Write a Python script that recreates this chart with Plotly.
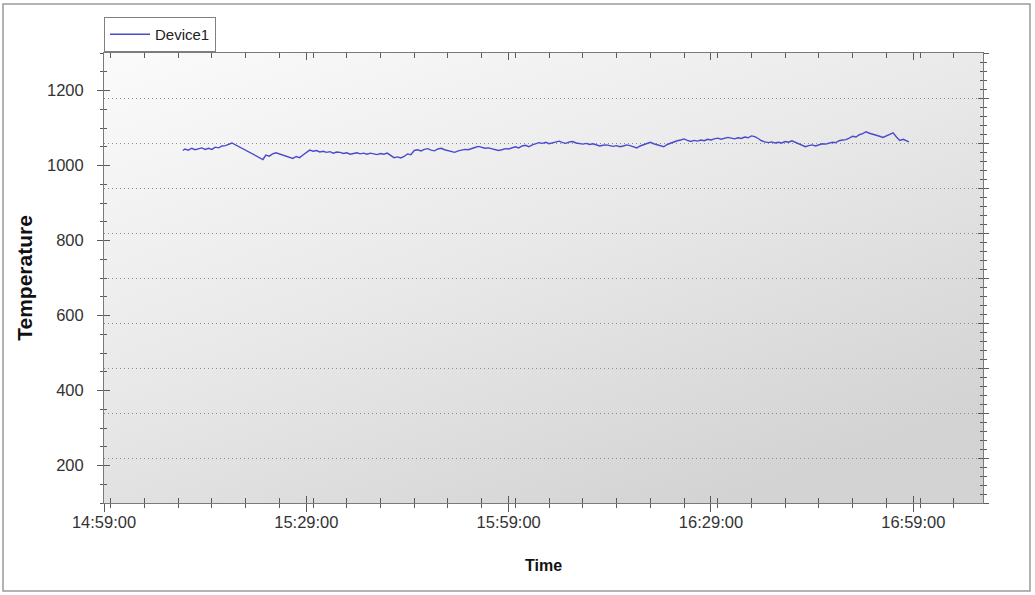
import base64
import plotly.graph_objects as go

# ---------------- data ----------------
DAY = "2020-01-01 "
times = [
    "15:10:41", "15:11:00", "15:11:30", "15:12:00", "15:12:30", "15:13:00", "15:13:30", "15:14:00",
    "15:14:30", "15:15:00", "15:15:30", "15:16:00", "15:16:30", "15:17:00", "15:17:30", "15:17:58",
    "15:22:34", "15:23:00", "15:23:30", "15:24:00", "15:24:30", "15:25:00", "15:25:30", "15:26:00",
    "15:26:30", "15:27:00", "15:27:30", "15:28:00", "15:28:30", "15:29:00", "15:29:30", "15:30:00",
    "15:30:30", "15:31:00", "15:31:30", "15:32:00", "15:32:30", "15:33:00", "15:33:30", "15:34:00",
    "15:34:30", "15:35:00", "15:35:30", "15:36:00", "15:36:30", "15:37:00", "15:37:30", "15:38:00",
    "15:38:30", "15:39:00", "15:39:30", "15:40:00", "15:40:30", "15:41:00", "15:41:30", "15:42:00",
    "15:42:30", "15:43:00", "15:43:30", "15:44:00", "15:44:30", "15:45:00", "15:45:30", "15:46:00",
    "15:46:30", "15:47:00", "15:47:30", "15:48:00", "15:48:30", "15:49:00", "15:49:30", "15:50:00",
    "15:50:30", "15:51:00", "15:51:30", "15:52:00", "15:52:30", "15:53:00", "15:53:30", "15:54:00",
    "15:54:30", "15:55:00", "15:55:30", "15:56:00", "15:56:30", "15:57:00", "15:57:30", "15:58:00",
    "15:58:30", "15:59:00", "15:59:30", "16:00:00", "16:00:30", "16:01:00", "16:01:30", "16:02:00",
    "16:02:30", "16:03:00", "16:03:30", "16:04:00", "16:04:30", "16:05:00", "16:05:30", "16:06:00",
    "16:06:30", "16:07:00", "16:07:30", "16:08:00", "16:08:30", "16:09:00", "16:09:30", "16:10:00",
    "16:10:30", "16:11:00", "16:11:30", "16:12:00", "16:12:30", "16:13:00", "16:13:30", "16:14:00",
    "16:14:30", "16:15:00", "16:15:30", "16:16:00", "16:16:30", "16:17:00", "16:17:30", "16:18:00",
    "16:18:30", "16:19:00", "16:19:30", "16:20:00", "16:20:30", "16:21:00", "16:21:30", "16:22:00",
    "16:22:30", "16:23:00", "16:23:30", "16:24:00", "16:24:30", "16:25:00", "16:25:30", "16:26:00",
    "16:26:30", "16:27:00", "16:27:30", "16:28:00", "16:28:30", "16:29:00", "16:29:30", "16:30:00",
    "16:30:30", "16:31:00", "16:31:30", "16:32:00", "16:32:30", "16:33:00", "16:33:30", "16:34:00",
    "16:34:30", "16:35:00", "16:35:30", "16:36:00", "16:36:30", "16:37:00", "16:37:30", "16:38:00",
    "16:38:30", "16:39:00", "16:39:30", "16:40:00", "16:40:30", "16:41:00", "16:41:30", "16:42:00",
    "16:42:30", "16:43:00", "16:43:30", "16:44:00", "16:44:30", "16:45:00", "16:45:30", "16:46:00",
    "16:46:30", "16:47:00", "16:47:30", "16:48:00", "16:48:30", "16:49:00", "16:49:30", "16:50:00",
    "16:50:30", "16:51:00", "16:51:30", "16:52:00", "16:52:30", "16:53:00", "16:53:30", "16:54:00",
    "16:54:30", "16:55:00", "16:55:30", "16:56:00", "16:56:30", "16:57:00", "16:57:30", "16:58:00",
    "16:58:20",
]
temps = [
    1040, 1044, 1041, 1046, 1042, 1044, 1047, 1043,
    1046, 1043, 1049, 1047, 1052, 1053, 1057, 1060,
    1016, 1028, 1025, 1031, 1034, 1031, 1030, 1027,
    1023, 1019, 1024, 1021, 1028, 1035, 1041, 1038,
    1040, 1036, 1038, 1035, 1037, 1033, 1036, 1035,
    1032, 1034, 1030, 1032, 1034, 1031, 1033, 1030,
    1033, 1031, 1029, 1032, 1030, 1033, 1027, 1021,
    1023, 1020, 1024, 1031, 1029, 1040, 1042, 1039,
    1043, 1045, 1041, 1039, 1044, 1046, 1042, 1040,
    1037, 1035, 1039, 1041, 1043, 1042, 1046, 1048,
    1051, 1049, 1046, 1047, 1044, 1043, 1040, 1042,
    1045, 1044, 1048, 1050, 1047, 1052, 1054, 1050,
    1055, 1057, 1061, 1059, 1062, 1058, 1060, 1063,
    1065, 1061, 1059, 1063, 1064, 1060, 1058, 1057,
    1059, 1056, 1058, 1055, 1052, 1054, 1055, 1053,
    1051, 1053, 1050, 1052, 1055, 1053, 1050, 1047,
    1052, 1055, 1060, 1062, 1058, 1055, 1052, 1050,
    1056, 1060, 1063, 1066, 1068, 1071, 1067, 1064,
    1067, 1065, 1068, 1066, 1070, 1068, 1071, 1073,
    1070, 1072, 1075, 1073, 1071, 1074, 1072, 1076,
    1074, 1079, 1077, 1072, 1066, 1063, 1061, 1063,
    1060, 1062, 1060, 1064, 1062, 1066, 1062, 1057,
    1053, 1050, 1053, 1055, 1052, 1056, 1058, 1057,
    1060, 1062, 1061, 1066, 1068, 1069, 1073, 1078,
    1076, 1082, 1085, 1090, 1086, 1084, 1080, 1078,
    1075, 1079, 1084, 1087, 1076, 1067, 1070, 1065,
    1063,
]
series_name = "Device1"
x_range = ["14:59:00", "17:09:20"]
y_range = [100, 1300]

# ---------------- styling ----------------
FONT = "Arial, 'Liberation Sans', sans-serif"
AXIS_LINE = "#7a7a7a"
TICK_COL = "#5a5a5a"
ML, MR, MT, MB = 104, 52, 53, 92
W, H = 1035, 595
PW, PH = W - ML - MR, H - MT - MB

svg = ('<svg xmlns="http://www.w3.org/2000/svg" width="100" height="100" viewBox="0 0 100 100" '
       'preserveAspectRatio="none"><defs><linearGradient id="g" x1="0" y1="0" x2="0.7" y2="1">'
       '<stop offset="0" stop-color="#fbfbfb"/><stop offset="0.5" stop-color="#e9e9e9"/>'
       '<stop offset="1" stop-color="#d3d3d3"/></linearGradient></defs>'
       '<rect width="100" height="100" fill="url(#g)"/></svg>')
bg_src = "data:image/svg+xml;base64," + base64.b64encode(svg.encode()).decode()

xr = [DAY + t for t in x_range]

fig = go.Figure()
fig.add_trace(go.Scatter(
    x=[DAY + t for t in times], y=temps, mode="lines", name=series_name,
    line=dict(color="#4a4acc", width=1.4),
))
# empty helper traces so the overlay axes (crossing ticks / right axis) get drawn
for xa, ya in [("x", "y2"), ("x", "y3"), ("x", "y4"), ("x3", "y")]:
    fig.add_trace(go.Scatter(x=[], y=[], xaxis=xa, yaxis=ya, showlegend=False, hoverinfo="skip"))

MS30 = 30 * 60 * 1000
MS5 = 5 * 60 * 1000

fig.update_layout(
    width=W, height=H,
    margin=dict(l=ML, r=MR, t=MT, b=MB),
    paper_bgcolor="white",
    plot_bgcolor="rgba(0,0,0,0)",
    font=dict(family=FONT, color="#2a2a2a"),
    showlegend=True,
    legend=dict(
        x=0, xanchor="left", y=(H - MB - 17) / PH, yanchor="top",
        bordercolor="#808080", borderwidth=1, bgcolor="white",
        font=dict(size=15, family=FONT, color="#222"), itemwidth=40,
    ),
    xaxis=dict(
        type="date", range=xr, tick0=DAY + x_range[0], dtick=MS30, tickformat="%H:%M:%S",
        ticks="outside", ticklen=8, tickcolor=TICK_COL, tickwidth=1,
        minor=dict(dtick=MS5, ticks="outside", ticklen=4, tickcolor=TICK_COL, showgrid=False),
        showline=True, linecolor=AXIS_LINE, linewidth=1, mirror=True,
        showgrid=False, zeroline=False, automargin=False,
        tickfont=dict(size=16.5, color="#333"), ticklabelstandoff=-4,
        title=dict(text="Time", font=dict(size=16, weight="bold", color="#111"), standoff=30),
    ),
    xaxis3=dict(
        type="date", range=xr, overlaying="x", anchor="y", side="bottom",
        tick0=DAY + x_range[0], dtick=MS30, automargin=False,
        ticks="inside", ticklen=7, tickcolor=TICK_COL, mirror="ticks",
        minor=dict(dtick=MS5, ticks="inside", ticklen=5, tickcolor=TICK_COL, showgrid=False),
        showticklabels=False, showline=False, showgrid=False, zeroline=False,
    ),
    yaxis=dict(
        range=y_range, tick0=200, dtick=200,
        ticks="outside", ticklen=6, tickcolor=TICK_COL,
        minor=dict(dtick=50, ticks="outside", ticklen=3, tickcolor=TICK_COL, showgrid=False),
        showline=True, linecolor=AXIS_LINE, linewidth=1, mirror=True,
        showgrid=False, zeroline=False, automargin=False,
        tickfont=dict(size=16.5, color="#333"), ticklabelstandoff=10,
        title=dict(text="Temperature", font=dict(size=21, weight="bold", color="#111"), standoff=8),
    ),
    yaxis3=dict(
        range=y_range, overlaying="y", anchor="x", side="left", tick0=200, dtick=200,
        ticks="inside", ticklen=6, tickcolor=TICK_COL, automargin=False,
        minor=dict(dtick=50, ticks="inside", ticklen=3, tickcolor=TICK_COL, showgrid=False),
        showticklabels=False, showline=False, showgrid=False, zeroline=False,
    ),
    yaxis2=dict(
        range=[0, 10], overlaying="y", anchor="x", side="right", dtick=1,
        ticks="outside", ticklen=5, tickcolor=TICK_COL, automargin=False,
        minor=dict(dtick=0.2, ticks="outside", ticklen=3, tickcolor=TICK_COL, showgrid=False),
        showgrid=True, gridcolor="#8c8c8c", gridwidth=1, griddash="1px,3px",
        showticklabels=False, showline=True, linecolor=AXIS_LINE, zeroline=False,
    ),
    yaxis4=dict(
        range=[0, 10], overlaying="y", anchor="x", side="right", dtick=1,
        ticks="inside", ticklen=5, tickcolor=TICK_COL, automargin=False,
        minor=dict(dtick=0.2, ticks="inside", ticklen=3, tickcolor=TICK_COL, showgrid=False),
        showgrid=False, showticklabels=False, showline=False, zeroline=False,
    ),
    images=[dict(source=bg_src, xref="paper", yref="paper", x=0, y=1, sizex=1, sizey=1,
                 xanchor="left", yanchor="top", sizing="stretch", layer="below")],
    shapes=[dict(type="rect", xref="paper", yref="paper",
                 x0=(3 - ML) / PW, x1=(1030 - ML) / PW,
                 y0=(H - MB - 591) / PH, y1=(H - MB - 4) / PH,
                 line=dict(color="#9a9a9a", width=1.5), fillcolor="rgba(0,0,0,0)", layer="below")],
)

fig.write_html(
    "out.html",
    config={"displayModeBar": False},
    post_script="document.body.style.margin='0';document.body.style.overflow='hidden';",
)
